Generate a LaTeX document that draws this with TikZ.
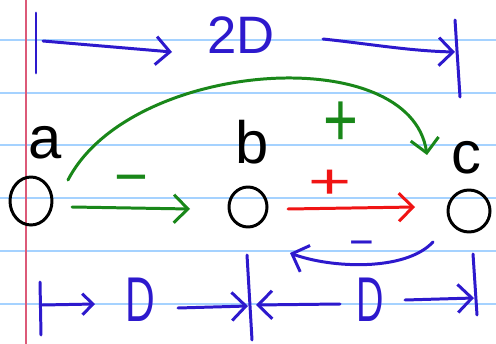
\documentclass[tikz,border=0pt]{standalone}
\usepackage{fontspec}
\setmainfont{Liberation Sans}
\usetikzlibrary{arrows.meta,shapes.geometric}
\definecolor{penblue}{RGB}{45,25,205}
\definecolor{pengreen}{RGB}{25,135,25}
\definecolor{penred}{RGB}{240,20,20}
\definecolor{ruleblue}{RGB}{165,210,255}
\definecolor{marginred}{RGB}{220,90,120}
\begin{document}
\begin{tikzpicture}[x=0.02cm,y=-0.02cm,
  ink/.style={line width=1.7pt, line cap=round, line join=round},
  tip/.style={-{Straight Barb[length=8pt,width=16pt,line width=1.7pt]}},
  smalltip/.style={-{Straight Barb[length=6pt,width=12pt,line width=1.7pt]}},
  dot/.style={ellipse, draw=black, line width=1.7pt, inner sep=0pt},
  lbl/.style={font=\fontsize{34}{36}\selectfont, inner sep=0pt},
  sign/.style={inner sep=0pt}
]
\useasboundingbox (0,0) rectangle (496,344);
\fill[white] (0,0) rectangle (496,344);
% notebook rules
\foreach \yy in {40,93,145,198,251,304}
  \draw[ruleblue, line width=0.6pt] (0,\yy) -- (496,\yy);
\draw[marginred, line width=0.6pt] (26,0) -- (26,344);

% nodes
\node[dot, minimum width=0.84cm, minimum height=0.96cm] (a) at (31,201) {};
\node[dot, minimum width=0.76cm, minimum height=0.80cm] (b) at (248,207) {};
\node[dot, minimum width=0.84cm, minimum height=0.84cm] (c) at (469,211) {};
\node[lbl] (la) at (45,143) {a};
\node[lbl] (lb) at (252,142) {b};
\node[lbl] (lc) at (466,158) {c};

% green arc a -> c
\coordinate (arcS) at (68,180);
\coordinate (arcE) at (427,155);
\draw[ink, pengreen, tip] (arcS) .. controls (130,60) and (410,40) .. (arcE);
\node[sign, text=pengreen, font=\fontsize{40}{40}\selectfont] (gplus) at (341,124) {\scalebox{0.85}[1.1]{+}};

% green a -> b
\coordinate (gS) at (72,207);
\coordinate (gE) at (190,209);
\draw[ink, pengreen, tip] (gS) -- (gE);
\node[sign, text=pengreen, font=\fontsize{33}{33}\selectfont] (gminus) at (131,186) {−};

% red b -> c
\coordinate (rS) at (288,209);
\coordinate (rE) at (415,207);
\draw[ink, penred, tip] (rS) -- (rE);
\node[sign, text=penred, font=\fontsize{40}{40}\selectfont] (rplus) at (330,184) {\scalebox{1.05}[0.7]{+}};

% blue back arrow c -> b
\coordinate (bS) at (433,242);
\coordinate (bE) at (290,253);
\draw[ink, penblue, tip] (bS) .. controls (405,272) and (330,268) .. (bE);
\node[sign, text=penblue, font=\fontsize{24}{24}\selectfont] (bminus) at (362,249) {−};

% top dimension 2D
\coordinate (t1a) at (36,13);  \coordinate (t1b) at (36,73);
\coordinate (t2a) at (455,20); \coordinate (t2b) at (460,97);
\draw[ink, penblue] (t1a) -- (t1b);
\draw[ink, penblue] (t2a) -- (t2b);
\coordinate (tLS) at (43,41);  \coordinate (tLE) at (172,52);
\coordinate (tRS) at (323,39); \coordinate (tRE) at (455,52);
\draw[ink, penblue, tip] (tLS) -- (tLE);
\draw[ink, penblue, tip] (tRS) .. controls (370,44) and (410,51) .. (tRE);
\node[sign, text=penblue, font=\fontsize{30}{30}\selectfont] (twoD) at (241,35) {2D};

% bottom dimensions D D
\coordinate (u1a) at (40,282);  \coordinate (u1b) at (41,335);
\coordinate (u2a) at (247,255); \coordinate (u2b) at (252,340);
\coordinate (u3a) at (473,254); \coordinate (u3b) at (477,315);
\draw[ink, penblue] (u1a) -- (u1b);
\draw[ink, penblue] (u2a) -- (u2b);
\draw[ink, penblue] (u3a) -- (u3b);
\coordinate (v1S) at (42,305);  \coordinate (v1E) at (95,304);
\coordinate (v2S) at (178,308); \coordinate (v2E) at (248,306);
\coordinate (v3S) at (340,304); \coordinate (v3E) at (256,305);
\coordinate (v4S) at (405,300); \coordinate (v4E) at (474,298);
\draw[ink, penblue, smalltip] (v1S) -- (v1E);
\draw[ink, penblue, tip] (v2S) -- (v2E);
\draw[ink, penblue, tip] (v3S) -- (v3E);
\draw[ink, penblue, tip] (v4S) -- (v4E);
\node[sign, text=penblue, font=\fontsize{36}{36}\selectfont] (d1) at (140,300) {\scalebox{0.65}[1]{D}};
\node[sign, text=penblue, font=\fontsize{36}{36}\selectfont] (d2) at (370,300) {\scalebox{0.6}[1]{D}};
\end{tikzpicture}
\end{document}
